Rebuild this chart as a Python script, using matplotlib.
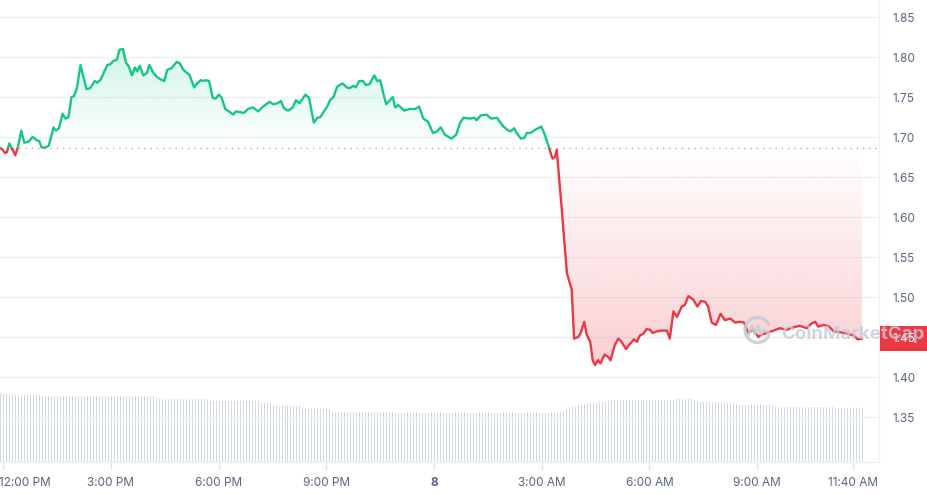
import numpy as np
import matplotlib
matplotlib.use("Agg")
import matplotlib.pyplot as plt
from matplotlib.patches import Rectangle, Arc
from matplotlib.colors import to_rgb
from matplotlib.transforms import Bbox, TransformedBbox, blended_transform_factory, ScaledTranslation

plt.rcParams['font.family'] = ['Inter', 'DejaVu Sans']

# ---------------- data (minutes since 12:00 PM, price in USD) ----------------
minutes = [-6, -1, 3, 6, 10, 14, 17, 20, 25, 30, 35, 42, 49, 56, 60, 64, 71, 76, 84, 88,
           93, 99, 104, 109, 114, 118, 123, 129, 135, 139, 145, 153, 157, 163, 170, 174, 179, 184, 190, 194,
           200, 205, 210, 215, 220, 224, 228, 234, 240, 244, 251, 257, 263, 269, 274, 281, 290, 295, 301, 307,
           311, 319, 324, 330, 334, 339, 344, 350, 355, 360, 365, 371, 379, 384, 389, 396, 402, 409, 417, 426,
           434, 445, 451, 458, 464, 469, 476, 484, 489, 495, 505, 511, 519, 525, 530, 536, 542, 546, 552, 558,
           567, 574, 579, 585, 589, 595, 601, 606, 612, 620, 625, 630, 635, 640, 645, 651, 655, 660, 670, 679,
           688, 695, 702, 710, 718, 725, 731, 738, 749, 757, 763, 769, 780, 787, 791, 798, 808, 815, 825, 835,
           842, 848, 854, 858, 865, 871, 875, 881, 889, 899, 903, 909, 914, 918, 922, 925, 933, 942, 950, 954,
           961, 965, 971, 975, 981, 985, 989, 994, 998, 1005, 1011, 1015, 1022, 1028, 1033, 1041, 1047, 1054, 1059, 1064,
           1070, 1075, 1081, 1085, 1092, 1100, 1109, 1114, 1120, 1126, 1134, 1139, 1145, 1153, 1160, 1166, 1173, 1178, 1184, 1191,
           1199, 1206, 1215, 1223, 1231, 1238, 1245, 1253, 1262, 1267, 1276, 1287, 1298, 1309, 1320, 1331, 1343, 1351, 1357, 1362,
           1371, 1380, 1388, 1399, 1410, 1421, 1428, 1435]
prices = [1.687, 1.684, 1.680, 1.681, 1.692, 1.686, 1.682, 1.677, 1.689, 1.708, 1.693, 1.694, 1.700, 1.696, 1.695, 1.687, 1.687, 1.689, 1.712, 1.708,
          1.711, 1.729, 1.723, 1.725, 1.750, 1.751, 1.761, 1.790, 1.772, 1.760, 1.761, 1.770, 1.768, 1.772, 1.784, 1.790, 1.791, 1.795, 1.797, 1.809,
          1.810, 1.793, 1.788, 1.777, 1.787, 1.782, 1.789, 1.777, 1.780, 1.790, 1.780, 1.775, 1.772, 1.770, 1.784, 1.786, 1.794, 1.792, 1.784, 1.780,
          1.778, 1.762, 1.767, 1.771, 1.770, 1.771, 1.770, 1.749, 1.748, 1.753, 1.749, 1.735, 1.731, 1.728, 1.732, 1.731, 1.730, 1.735, 1.737, 1.732,
          1.738, 1.744, 1.741, 1.742, 1.745, 1.736, 1.733, 1.737, 1.746, 1.742, 1.753, 1.749, 1.718, 1.724, 1.725, 1.732, 1.739, 1.746, 1.750, 1.763,
          1.767, 1.762, 1.761, 1.764, 1.762, 1.770, 1.770, 1.765, 1.766, 1.777, 1.770, 1.771, 1.755, 1.741, 1.745, 1.750, 1.737, 1.740, 1.733, 1.735,
          1.735, 1.738, 1.723, 1.719, 1.705, 1.707, 1.712, 1.703, 1.698, 1.703, 1.717, 1.724, 1.723, 1.724, 1.721, 1.727, 1.728, 1.723, 1.724, 1.714,
          1.709, 1.707, 1.711, 1.705, 1.698, 1.699, 1.705, 1.705, 1.709, 1.713, 1.707, 1.694, 1.682, 1.673, 1.675, 1.684, 1.613, 1.530, 1.509, 1.448,
          1.450, 1.455, 1.469, 1.453, 1.444, 1.421, 1.415, 1.421, 1.417, 1.428, 1.425, 1.421, 1.440, 1.448, 1.444, 1.435, 1.441, 1.447, 1.444, 1.452,
          1.454, 1.460, 1.459, 1.455, 1.457, 1.458, 1.458, 1.448, 1.482, 1.475, 1.488, 1.490, 1.501, 1.497, 1.488, 1.495, 1.494, 1.488, 1.468, 1.465,
          1.479, 1.471, 1.473, 1.468, 1.469, 1.468, 1.455, 1.459, 1.450, 1.453, 1.455, 1.458, 1.461, 1.459, 1.462, 1.464, 1.461, 1.467, 1.469, 1.463,
          1.465, 1.463, 1.457, 1.456, 1.454, 1.452, 1.447, 1.448]
base_price = 1.686
price_label = "1.45"

# volume bars, one per 5 minutes starting 11:55 AM (relative units)
volume_start_minute = -5
volume_step_minutes = 5
volume = [69, 68, 68, 68, 68, 67, 67, 67, 67, 67, 67, 67,
          67, 67, 66, 66, 66, 66, 66, 66, 66, 66, 66, 66,
          66, 66, 66, 66, 66, 66, 66, 66, 66, 66, 66, 66,
          66, 66, 66, 66, 66, 66, 66, 66, 66, 66, 66, 66,
          66, 66, 66, 66, 63, 63, 63, 63, 63, 63, 63, 63,
          63, 63, 63, 63, 63, 63, 63, 63, 63, 63, 61, 61,
          61, 61, 61, 61, 61, 61, 61, 61, 61, 61, 61, 61,
          61, 61, 61, 59, 59, 59, 59, 56, 56, 56, 56, 56,
          56, 56, 56, 56, 56, 53, 53, 53, 53, 53, 53, 53,
          53, 53, 53, 50, 50, 50, 50, 50, 50, 50, 50, 50,
          50, 50, 50, 50, 50, 50, 50, 50, 50, 50, 50, 50,
          49, 49, 49, 49, 49, 49, 49, 49, 49, 49, 49, 49,
          49, 49, 49, 49, 49, 49, 49, 49, 49, 49, 49, 49,
          49, 49, 49, 49, 49, 49, 49, 49, 49, 49, 49, 49,
          49, 49, 49, 49, 49, 49, 49, 49, 49, 49, 49, 49,
          49, 49, 49, 49, 49, 49, 49, 50, 51, 53, 54, 55,
          56, 57, 57, 58, 58, 59, 59, 59, 60, 60, 60, 61,
          62, 62, 62, 62, 62, 62, 62, 62, 62, 62, 62, 62,
          62, 62, 62, 62, 62, 62, 62, 62, 62, 62, 63, 63,
          63, 63, 63, 63, 62, 61, 60, 60, 60, 60, 60, 60,
          60, 60, 60, 59, 59, 59, 57, 57, 57, 57, 57, 57,
          57, 57, 57, 57, 57, 57, 57, 55, 55, 55, 55, 55,
          55, 55, 55, 55, 55, 55, 55, 55, 55, 55, 55, 55,
          55, 55, 55, 54, 54, 54, 54, 54, 54, 54, 54, 54,
          54]

xtick_minutes = [0, 180, 360, 540, 720, 900, 1080, 1260, 1420]
xtick_labels = ['12:00 PM', '3:00 PM', '6:00 PM', '9:00 PM', '8', '3:00 AM', '6:00 AM', '9:00 AM', '11:40 AM']
ytick_values = [1.35, 1.40, 1.45, 1.50, 1.55, 1.60, 1.65, 1.70, 1.75, 1.80, 1.85]

GREEN = '#16c784'
RED = '#ea3943'
LABEL = '#58667e'
GRID = '#eff2f5'

# ---------------- figure ----------------
W, H = 928, 495
fig = plt.figure(figsize=(W / 100, H / 100), dpi=100)
pos = [0, 33 / H, 879 / W, 462 / H]

vax = fig.add_axes(pos, zorder=0)
ax = fig.add_axes(pos, zorder=1)
ax.patch.set_alpha(0)

XLIM = (-5.5, 1463.6)
YLIM = (1.29375, 1.87125)

# volume (thin crisp 1px bars)
vol_t = volume_start_minute + volume_step_minutes * np.arange(len(volume))
vax.vlines(vol_t, 0, volume, colors='#d2d8e6', linewidth=0.72, antialiased=False)
vax.set_xlim(*XLIM)
vax.set_ylim(0, 462)
vax.axis('off')

t = np.array(minutes, dtype=float)
p = np.array(prices)

# gradient fills
gpoly = ax.fill_between(t, np.maximum(p, base_price), base_price, color='none', lw=0)
rpoly = ax.fill_between(t, np.minimum(p, base_price), base_price, color='none', lw=0)
g = np.linspace(0, 1, 256).reshape(-1, 1)


def grad_img(rgb, alpha):
    img = np.zeros((256, 1, 4))
    img[..., 0], img[..., 1], img[..., 2] = rgb
    img[..., 3] = alpha
    return img


gimg = ax.imshow(grad_img(to_rgb(GREEN), g * 0.2), extent=[t[0], t[-1], base_price, max(prices)],
                 origin='lower', aspect='auto', zorder=1, interpolation='bilinear')
gimg.set_clip_path(gpoly.get_paths()[0], ax.transData)
rimg = ax.imshow(grad_img(to_rgb(RED), (1 - g) * 0.24), extent=[t[0], t[-1], min(prices), base_price],
                 origin='lower', aspect='auto', zorder=1, interpolation='bilinear')
rimg.set_clip_path(rpoly.get_paths()[0], ax.transData)

# baseline
ax.axhline(base_price, color='#a6afbd', lw=1, linestyle=(0, (1, 3.5)), zorder=2)

# price line split at the baseline
lg, = ax.plot(t, p, color=GREEN, lw=1.7, zorder=3, solid_joinstyle='round')
lg.set_clip_path(Rectangle((-1000, base_price), 5000, 5, transform=ax.transData))
lr, = ax.plot(t, p, color=RED, lw=1.7, zorder=3, solid_joinstyle='round')
lr.set_clip_path(Rectangle((-1000, base_price - 5), 5000, 5, transform=ax.transData))

ax.set_xlim(*XLIM)
ax.set_ylim(*YLIM)

# axes styling
ax.yaxis.tick_right()
ax.set_yticks(ytick_values)
ax.set_yticklabels([f'{v:.2f}' for v in ytick_values])
ax.tick_params(axis='y', length=0, pad=10, labelsize=8.5, labelcolor=LABEL)
ax.grid(axis='y', color=GRID, lw=1)
ax.set_axisbelow(True)

ax.set_xticks(xtick_minutes)
ax.set_xticklabels(xtick_labels)
ax.tick_params(axis='x', length=5, color='#dfe3ea', width=1, pad=6, labelsize=8.5, labelcolor=LABEL)
for sp in ['top', 'left']:
    ax.spines[sp].set_visible(False)
for sp in ['right', 'bottom']:
    ax.spines[sp].set_color(GRID)
    ax.spines[sp].set_linewidth(1)

xlabels = ax.get_xticklabels()
xlabels[4].set_fontweight('bold')
xlabels[0].set_ha('left')
xlabels[0].set_transform(xlabels[0].get_transform() + ScaledTranslation(-4 / 100, 0, fig.dpi_scale_trans))
xlabels[-1].set_clip_box(TransformedBbox(Bbox.from_extents(0, 0, 878 / W, 1), fig.transFigure))
xlabels[-1].set_clip_on(True)

# current price tag
trans = blended_transform_factory(fig.transFigure, ax.transData)
last = prices[-1]
fig.add_artist(Rectangle((880 / W, last - 0.0155), 48 / W, 0.031, transform=trans,
                         facecolor=RED, edgecolor='none', zorder=5))
fig.text(904 / W, 0, price_label, transform=trans, ha='center', va='center', color='white',
         fontsize=8.5, zorder=6).set_y(last)

# watermark (overlay in pixel coordinates)
ov = fig.add_axes([0, 0, 1, 1], zorder=10)
ov.set_xlim(0, W)
ov.set_ylim(H, 0)
ov.axis('off')
ov.patch.set_alpha(0)
wm = '#c4cbd9'
ov.add_patch(Arc((757.5, 330), 25, 25, theta1=20, theta2=340, color=wm, lw=2.4, alpha=0.85))
ov.plot([748, 752, 755, 758, 761, 764, 769], [336, 326, 334, 326, 334, 330, 333],
        color=wm, lw=2.2, alpha=0.85, solid_joinstyle='round')
ov.text(781, 334, 'CoinMarketCap', ha='left', va='center', color=wm, alpha=0.8,
        fontsize=13.5, fontweight='bold')

fig.savefig('out.png', dpi=100)
